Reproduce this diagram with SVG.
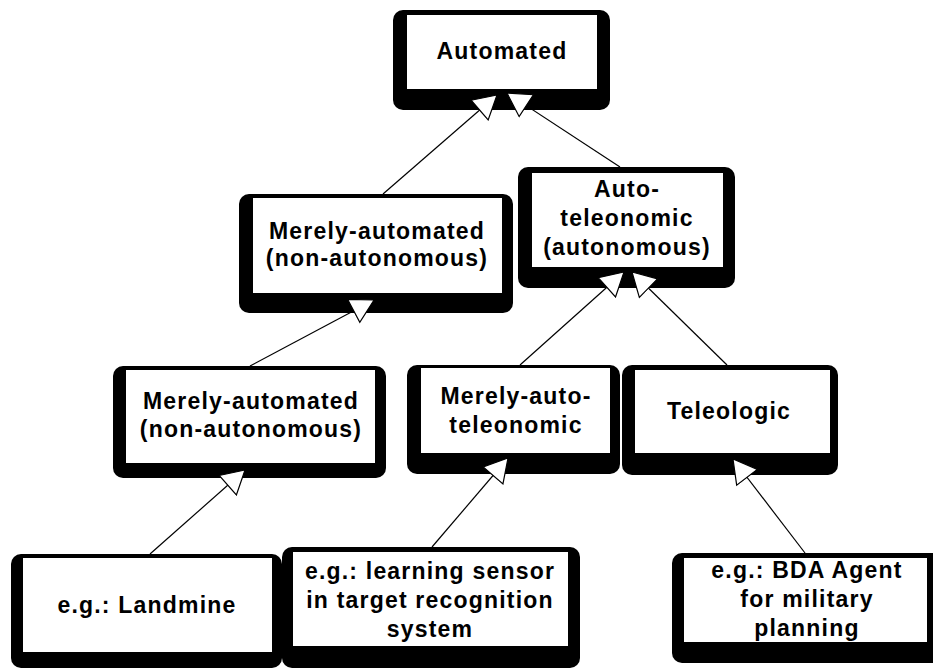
<svg xmlns="http://www.w3.org/2000/svg" width="933" height="668" viewBox="0 0 933 668">
<style>
.frame{fill:#000}
.inner{fill:#fff}
.t{font-family:"Liberation Sans",Arial,sans-serif;font-weight:bold;font-size:23px;letter-spacing:1.2px;fill:#000;text-anchor:middle}
.c{stroke:#000;stroke-width:1.2;fill:none;marker-end:url(#gen)}
</style>
<defs>
<marker id="gen" markerUnits="userSpaceOnUse" viewBox="-1 -1 25 28" markerWidth="25" markerHeight="28" refX="23" refY="13" orient="auto">
<path d="M0,0 L23,13 L0,26 Z" fill="#fff" stroke="#000" stroke-width="1.2"/>
</marker>
</defs>
<rect width="933" height="668" fill="#fff"/>
<g id="n-automated">
<rect class="frame" x="393" y="10" width="217" height="100" rx="10"/>
<rect class="inner" x="407" y="15" width="190" height="74"/>
<text class="t" x="502" y="59">Automated</text>
</g>
<g id="n-merely-automated-top">
<rect class="frame" x="239" y="194" width="274" height="119" rx="10"/>
<rect class="inner" x="253" y="198" width="249" height="95"/>
<text class="t" x="377" y="239">Merely-automated</text>
<text class="t" x="377" y="266">(non-autonomous)</text>
</g>
<g id="n-auto-teleonomic">
<rect class="frame" x="518" y="167" width="217" height="121" rx="10"/>
<rect class="inner" x="532" y="173" width="191" height="94"/>
<text class="t" x="627" y="197">Auto-</text>
<text class="t" x="627" y="226">teleonomic</text>
<text class="t" x="627" y="255">(autonomous)</text>
</g>
<g id="n-merely-automated-bottom">
<rect class="frame" x="113" y="366" width="273" height="112" rx="10"/>
<rect class="inner" x="126" y="370" width="249" height="93"/>
<text class="t" x="251" y="409">Merely-automated</text>
<text class="t" x="251" y="437">(non-autonomous)</text>
</g>
<g id="n-merely-auto-teleonomic">
<rect class="frame" x="407" y="365" width="213" height="109" rx="10"/>
<rect class="inner" x="421" y="368" width="189" height="85"/>
<text class="t" x="516" y="404">Merely-auto-</text>
<text class="t" x="516" y="433">teleonomic</text>
</g>
<g id="n-teleologic">
<rect class="frame" x="622" y="365" width="216" height="110" rx="10"/>
<rect class="inner" x="635" y="370" width="195" height="83"/>
<text class="t" x="729" y="419">Teleologic</text>
</g>
<g id="n-landmine">
<rect class="frame" x="11" y="554" width="271" height="114" rx="10"/>
<rect class="inner" x="23" y="558" width="249" height="94"/>
<text class="t" x="147" y="613">e.g.: Landmine</text>
</g>
<g id="n-sensor">
<rect class="frame" x="282" y="547" width="298" height="121" rx="10"/>
<rect class="inner" x="293" y="552" width="275" height="94"/>
<text class="t" x="430" y="579">e.g.: learning sensor</text>
<text class="t" x="430" y="608">in target recognition</text>
<text class="t" x="430" y="637">system</text>
</g>
<g id="n-bda">
<rect class="frame" x="672" y="553" width="270" height="110" rx="10"/>
<rect class="inner" x="684" y="558" width="243" height="84"/>
<text class="t" x="807" y="578">e.g.: BDA Agent</text>
<text class="t" x="807" y="607">for military</text>
<text class="t" x="807" y="636">planning</text>
</g>
<g id="connectors">
<line class="c" x1="383" y1="194" x2="497" y2="95"/>
<line class="c" x1="620" y1="167" x2="507" y2="93"/>
<line class="c" x1="250" y1="366" x2="374" y2="300"/>
<line class="c" x1="520" y1="365" x2="624" y2="272"/>
<line class="c" x1="727" y1="365" x2="632" y2="272"/>
<line class="c" x1="150" y1="554" x2="245" y2="470"/>
<line class="c" x1="432" y1="547" x2="508" y2="458"/>
<line class="c" x1="805" y1="553" x2="733" y2="459"/>
</g>
</svg>
